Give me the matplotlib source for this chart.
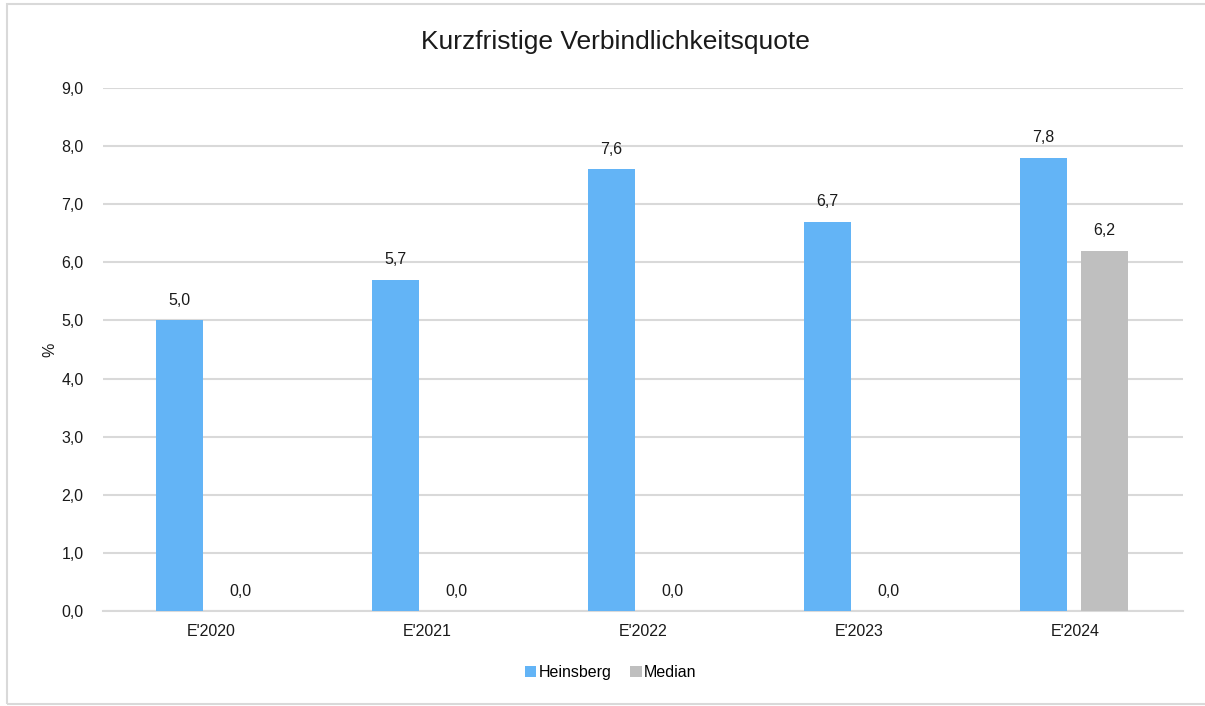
import numpy as np
import matplotlib.pyplot as plt
from matplotlib.patches import Rectangle

plt.rcParams['font.family'] = ['Liberation Sans', 'DejaVu Sans']

# Daten
jahre = ["E'2020", "E'2021", "E'2022", "E'2023", "E'2024"]
heinsberg = [5.0, 5.7, 7.6, 6.7, 7.8]
median = [0.0, 0.0, 0.0, 0.0, 6.2]
y_ticks = [0, 1, 2, 3, 4, 5, 6, 7, 8, 9]

blau = '#63B4F6'
grau = '#BFBFBF'
gitter = '#D9D9D9'

fig = plt.figure(figsize=(12.05, 7.06), dpi=100)
ax = fig.add_axes([103 / 1205, 95 / 706, 1080 / 1205, 523 / 706])

# Rahmen um das ganze Diagramm
fig.patches.append(Rectangle((7 / 1205, 2 / 706), 1.0, 700 / 706, transform=fig.transFigure,
                             fill=False, edgecolor=gitter, linewidth=1.5))

x = np.arange(len(jahre))
breite = 0.22
b1 = ax.bar(x - 0.145, heinsberg, breite, color=blau, label='Heinsberg', zorder=3)
b2 = ax.bar(x + 0.137, median, breite, color=grau, label='Median', zorder=3)

# Wertebeschriftung mit Dezimalkomma
for bars in (b1, b2):
    for rect in bars:
        h = rect.get_height()
        ax.annotate(f'{h:.1f}'.replace('.', ','),
                    (rect.get_x() + rect.get_width() / 2, h),
                    xytext=(0, 9), textcoords='offset points',
                    ha='center', va='bottom', fontsize=11.5, color='#1a1a1a')

ax.set_xlim(-0.5, len(jahre) - 0.5)
ax.set_ylim(0, 9)
ax.set_yticks(y_ticks)
ax.set_yticklabels([f'{v:.1f}'.replace('.', ',') for v in y_ticks])
ax.set_xticks(x)
ax.set_xticklabels(jahre)
ax.tick_params(axis='both', length=0, labelsize=11.5, colors='#1a1a1a')
ax.tick_params(axis='y', pad=14)
ax.tick_params(axis='x', pad=9)

ax.grid(axis='y', color=gitter, linewidth=1.5, zorder=0)
for s in ['top', 'right', 'left']:
    ax.spines[s].set_visible(False)
ax.spines['bottom'].set_color(gitter)
ax.spines['bottom'].set_linewidth(1.5)

ax.set_ylabel('%', fontsize=11.5, color='#1a1a1a')
ax.yaxis.set_label_coords(-0.042, 0.5)

fig.text(615 / 1205, 1 - 42 / 706, 'Kurzfristige Verbindlichkeitsquote',
         ha='center', va='center', fontsize=19, color='#1a1a1a')

ax.legend(loc='center', bbox_to_anchor=(0.47, -0.117), ncol=2, frameon=False,
          fontsize=11.5, handlelength=0.7, handleheight=0.7, handletextpad=0.15,
          columnspacing=1.2)

fig.savefig('out.png', dpi=100)
